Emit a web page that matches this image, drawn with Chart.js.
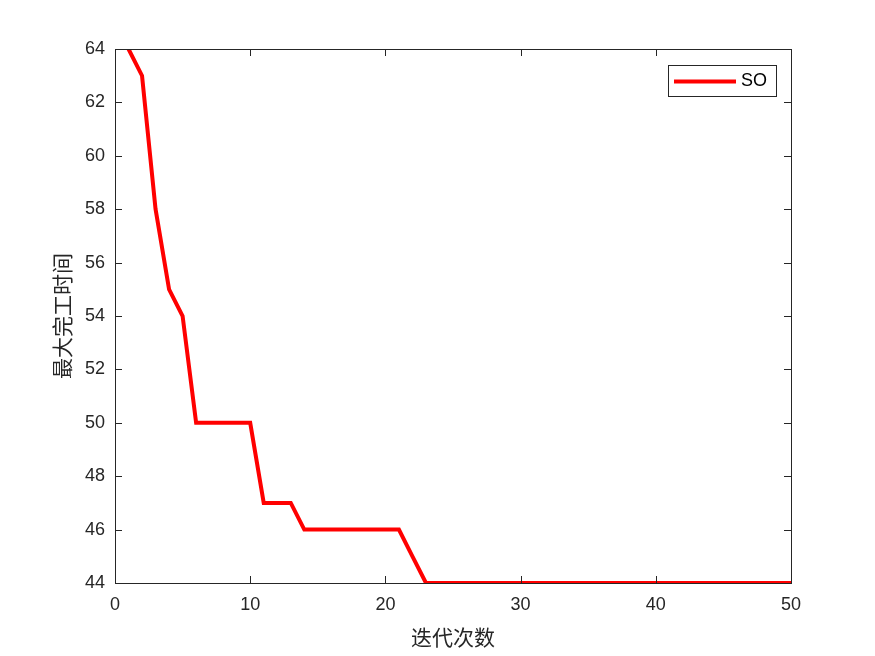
<!DOCTYPE html>
<html>
<head>
<meta charset="utf-8">
<script src="https://cdn.jsdelivr.net/npm/chart.js@4.4.0/dist/chart.umd.min.js"></script>
<style>
  html, body { margin: 0; padding: 0; background: #fff; }
  #wrap { width: 875px; height: 656px; }
</style>
</head>
<body>
<div id="wrap"><canvas id="c" width="875" height="656"></canvas></div>
<script>
const iterations = Array.from({ length: 50 }, (_, i) => i + 1);
const makespan = [
  64, 63, 58, 55, 54, 50, 50, 50, 50, 50,
  47, 47, 47, 46, 46, 46, 46, 46, 46, 46,
  46, 45, 44, 44, 44, 44, 44, 44, 44, 44,
  44, 44, 44, 44, 44, 44, 44, 44, 44, 44,
  44, 44, 44, 44, 44, 44, 44, 44, 44, 44
];
const seriesName = 'SO';
const xTicks = [0, 10, 20, 30, 40, 50];
const yTicks = [44, 46, 48, 50, 52, 54, 56, 58, 60, 62, 64];

const axisColor = '#262626';
const cjk = '"Noto Sans CJK SC", sans-serif';
const latin = '"Liberation Sans", Arial, sans-serif';

// matlab style box with inward ticks, plus the legend
const boxPlugin = {
  id: 'box',
  afterDraw(chart) {
    const { ctx, chartArea: a, scales: { x, y } } = chart;
    const len = 7;
    ctx.save();
    ctx.strokeStyle = axisColor;
    ctx.lineWidth = 1;
    ctx.strokeRect(a.left + 0.5, a.top + 0.5, a.right - a.left, a.bottom - a.top);
    ctx.beginPath();
    xTicks.forEach(v => {
      const px = Math.round(x.getPixelForValue(v)) + 0.5;
      ctx.moveTo(px, a.bottom); ctx.lineTo(px, a.bottom - len);
      ctx.moveTo(px, a.top); ctx.lineTo(px, a.top + len);
    });
    yTicks.forEach(v => {
      const py = Math.round(y.getPixelForValue(v)) + 0.5;
      ctx.moveTo(a.left, py); ctx.lineTo(a.left + len, py);
      ctx.moveTo(a.right, py); ctx.lineTo(a.right - len, py);
    });
    ctx.stroke();

    // legend
    const ds = chart.data.datasets[0];
    const lx = 668, ly = 65, lw = 108, lh = 31;
    ctx.fillStyle = '#fff';
    ctx.fillRect(lx, ly, lw, lh);
    ctx.strokeStyle = axisColor;
    ctx.strokeRect(lx + 0.5, ly + 0.5, lw, lh);
    ctx.strokeStyle = ds.borderColor;
    ctx.lineWidth = ds.borderWidth;
    ctx.beginPath();
    ctx.moveTo(lx + 6, ly + lh / 2 + 1);
    ctx.lineTo(lx + 68, ly + lh / 2 + 1);
    ctx.stroke();
    ctx.fillStyle = '#000';
    ctx.font = '18px ' + latin;
    ctx.textBaseline = 'middle';
    ctx.fillText(ds.label, lx + 73, ly + lh / 2 + 1);
    ctx.restore();
  }
};

new Chart(document.getElementById('c'), {
  type: 'line',
  data: {
    datasets: [{
      label: seriesName,
      data: iterations.map((it, i) => ({ x: it, y: makespan[i] })),
      borderColor: '#ff0000',
      borderWidth: 4,
      pointRadius: 0,
      tension: 0,
      fill: false
    }]
  },
  options: {
    responsive: false,
    animation: false,
    devicePixelRatio: 1,
    layout: { padding: { left: 0, top: 49, right: 84, bottom: 0 } },
    plugins: { legend: { display: false }, tooltip: { enabled: false } },
    scales: {
      x: {
        type: 'linear',
        min: 0, max: 50,
        afterFit: s => { s.height = 73; },
        afterBuildTicks: s => { s.ticks = xTicks.map(v => ({ value: v })); },
        grid: { display: false, drawTicks: false },
        border: { display: false },
        ticks: { padding: 11, color: axisColor, font: { family: latin, size: 18 } },
        title: {
          display: true, text: '迭代次数', color: axisColor,
          font: { family: cjk, size: 21 }, padding: { top: 0, bottom: 6 }
        }
      },
      y: {
        min: 44, max: 64,
        afterFit: s => { s.width = 115; },
        afterBuildTicks: s => { s.ticks = yTicks.map(v => ({ value: v })); },
        grid: { display: false, drawTicks: false },
        border: { display: false },
        ticks: { padding: 10, color: axisColor, font: { family: latin, size: 18 } },
        title: {
          display: true, text: '最大完工时间', color: axisColor,
          font: { family: cjk, size: 21 }, padding: { top: 49, bottom: 0 }
        }
      }
    }
  },
  plugins: [boxPlugin]
});
</script>
</body>
</html>
